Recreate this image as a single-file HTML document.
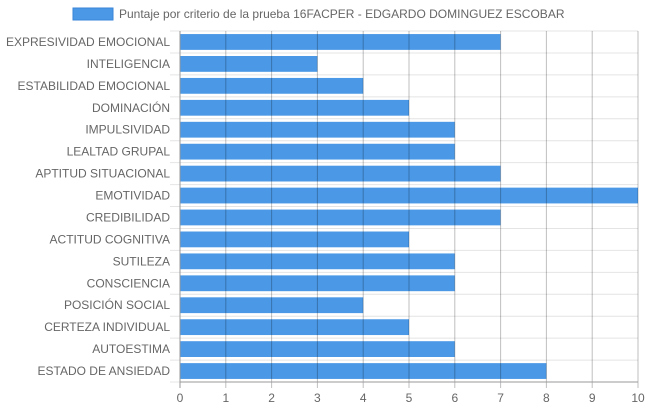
<!DOCTYPE html>
<html><head><meta charset="utf-8"><style>
body{margin:0;background:#fff;font-family:"Liberation Sans",sans-serif;}
svg text{font-family:"Liberation Sans",sans-serif;fill:#666;font-size:12px;}
</style></head><body>
<svg id="c" width="648" height="410" xmlns="http://www.w3.org/2000/svg">
<rect x="73" y="8" width="40" height="12" fill="#4a98e6" stroke="#3a86d8" stroke-width="1"/>
<text x="119" y="18">Puntaje por criterio de la prueba 16FACPER - EDGARDO DOMINGUEZ ESCOBAR</text>
<g id="plot"></g>
</svg>
<script>
const categories=["EXPRESIVIDAD EMOCIONAL","INTELIGENCIA","ESTABILIDAD EMOCIONAL","DOMINACIÓN","IMPULSIVIDAD","LEALTAD GRUPAL","APTITUD SITUACIONAL","EMOTIVIDAD","CREDIBILIDAD","ACTITUD COGNITIVA","SUTILEZA","CONSCIENCIA","POSICIÓN SOCIAL","CERTEZA INDIVIDUAL","AUTOESTIMA","ESTADO DE ANSIEDAD"];
const values=[7,3,4,5,6,6,7,10,7,5,6,6,4,5,6,8];
const ticks=[0,1,2,3,4,5,6,7,8,9,10];
const L=180,R=638,T=31,B=382;
const NS="http://www.w3.org/2000/svg";
const g=document.getElementById('plot');
const xs=v=>L+(v-ticks[0])/(ticks[ticks.length-1]-ticks[0])*(R-L);
const rh=(B-T)/categories.length;
function mk(t,a){const e=document.createElementNS(NS,t);for(const k in a)e.setAttribute(k,a[k]);g.appendChild(e);return e;}
for(let i=0;i<=categories.length;i++){const y=T+i*rh;const l=mk('line',{x1:170,x2:R,y1:y,y2:y,stroke:'#e4e4e4'});

}
categories.forEach((c,i)=>{const yc=T+(i+0.5)*rh;
const r=mk('rect',{x:L,y:yc-rh*0.36,width:xs(values[i])-L,height:rh*0.72,fill:'#4a98e6'});


const t=mk('text',{x:170,y:yc+4,'text-anchor':'end'});t.textContent=c;

});
ticks.forEach(v=>{const x=xs(v);
const l=mk('line',{x1:x,x2:x,y1:T,y2:B+6,stroke:v===0?'#999':'rgba(0,0,0,0.25)'});


const t=mk('text',{x:x,y:402,'text-anchor':'middle'});t.textContent=v;

});
const ax=mk('line',{x1:L,x2:R,y1:B,y2:B,stroke:'#999'});


</script>
</body></html>
